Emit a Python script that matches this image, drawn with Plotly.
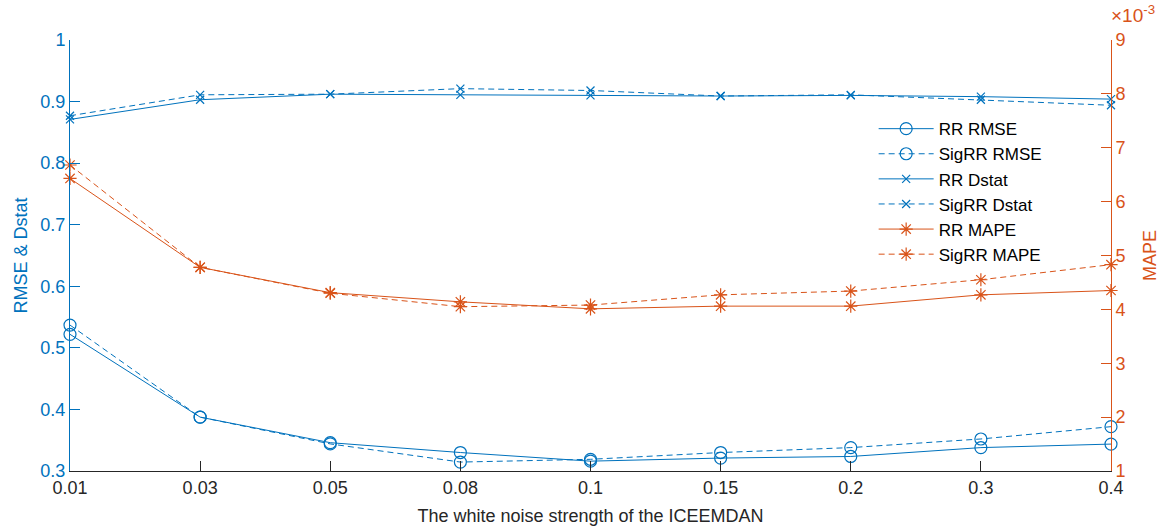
import plotly.graph_objects as go

categories = ["0.01", "0.03", "0.05", "0.08", "0.1", "0.15", "0.2", "0.3", "0.4"]

rr_rmse = [0.522, 0.3875, 0.346, 0.330, 0.316, 0.321, 0.3236, 0.338, 0.3437]
sigrr_rmse = [0.537, 0.3875, 0.344, 0.3145, 0.319, 0.330, 0.338, 0.352, 0.372]
rr_dstat = [0.871, 0.903, 0.912, 0.911, 0.910, 0.909, 0.910, 0.908, 0.904]
sigrr_dstat = [0.877, 0.911, 0.912, 0.921, 0.918, 0.909, 0.911, 0.903, 0.894]
rr_mape = [0.00643, 0.00478, 0.00431, 0.00414, 0.00401, 0.00406, 0.00406, 0.00427, 0.00435]
sigrr_mape = [0.00668, 0.00478, 0.00430, 0.00405, 0.00408, 0.00427, 0.00434, 0.00455, 0.00483]

left_ticks = [0.3, 0.4, 0.5, 0.6, 0.7, 0.8, 0.9, 1.0]
left_labels = ["0.3", "0.4", "0.5", "0.6", "0.7", "0.8", "0.9", "1"]
right_ticks = [0.001, 0.002, 0.003, 0.004, 0.005, 0.006, 0.007, 0.008, 0.009]
right_labels = ["1", "2", "3", "4", "5", "6", "7", "8", "9"]

BLUE = "#0072BD"
ORANGE = "#D95319"
GRAY = "#262626"
FONT = "Liberation Sans, Arial, sans-serif"

x = list(range(len(categories)))
fig = go.Figure()

def add(name, y, color, dash, symbol, size, axis):
    fig.add_trace(go.Scatter(
        x=x, y=y, name=name, mode="lines+markers", yaxis=axis,
        line=dict(color=color, width=1, dash=dash),
        marker=dict(symbol=symbol, size=size, color=color,
                    line=dict(color=color, width=1.2)),
        cliponaxis=False,
    ))

add("RR RMSE", rr_rmse, BLUE, "solid", "circle-open", 12, "y")
add("SigRR RMSE", sigrr_rmse, BLUE, "6px,4px", "circle-open", 12, "y")
add("RR Dstat", rr_dstat, BLUE, "solid", "x-thin-open", 8, "y")
add("SigRR Dstat", sigrr_dstat, BLUE, "6px,4px", "x-thin-open", 8, "y")
add("RR MAPE", rr_mape, ORANGE, "solid", "asterisk-open", 11, "y2")
add("SigRR MAPE", sigrr_mape, ORANGE, "6px,4px", "asterisk-open", 11, "y2")

fig.update_layout(
    width=1165, height=530,
    margin=dict(l=70, r=54, t=40, b=59, autoexpand=False),
    paper_bgcolor="white", plot_bgcolor="white",
    font=dict(family=FONT, size=18, color=GRAY),
    showlegend=True,
    legend=dict(
        x=0.772, y=0.835, xanchor="left", yanchor="top",
        bgcolor="rgba(255,255,255,0)", borderwidth=0,
        font=dict(family=FONT, size=17, color="black"),
        itemwidth=55, tracegroupgap=0,
    ),
    xaxis=dict(
        range=[0, len(categories) - 1], automargin=False,
        tickmode="array", tickvals=x, ticktext=categories,
        showline=True, linecolor=GRAY, linewidth=1, mirror=False,
        ticks="inside", ticklen=10, tickcolor=GRAY, showgrid=False, zeroline=False,
        tickfont=dict(family=FONT, size=18, color=GRAY),
        title=dict(text="The white noise strength of the ICEEMDAN",
                   font=dict(family=FONT, size=18, color=GRAY), standoff=12),
    ),
    yaxis=dict(
        range=[0.3, 1.0], automargin=False,
        tickmode="array", tickvals=left_ticks, ticktext=left_labels,
        showline=True, linecolor=BLUE, linewidth=1,
        ticks="inside", ticklen=10, tickcolor=BLUE, showgrid=False, zeroline=False,
        tickfont=dict(family=FONT, size=18, color=BLUE),
        title=dict(text="RMSE & Dstat", font=dict(family=FONT, size=18, color=BLUE), standoff=8),
    ),
    yaxis2=dict(
        range=[0.001, 0.009], overlaying="y", side="right", automargin=False,
        tickmode="array", tickvals=right_ticks, ticktext=right_labels,
        showline=True, linecolor=ORANGE, linewidth=1,
        ticks="inside", ticklen=10, tickcolor=ORANGE, showgrid=False, zeroline=False,
        tickfont=dict(family=FONT, size=18, color=ORANGE),
        title=dict(text="MAPE", font=dict(family=FONT, size=18, color=ORANGE), standoff=18),
    ),
    annotations=[dict(
        text="×10<sup>-3</sup>", xref="paper", yref="paper", x=0.998, y=1.0,
        xanchor="left", yanchor="bottom", showarrow=False, yshift=12,
        font=dict(family=FONT, size=19, color=ORANGE),
    )],
)

fig.write_html("out.html", config={"displayModeBar": False},
               post_script="document.body.style.margin='0';document.body.style.overflow='hidden';")
